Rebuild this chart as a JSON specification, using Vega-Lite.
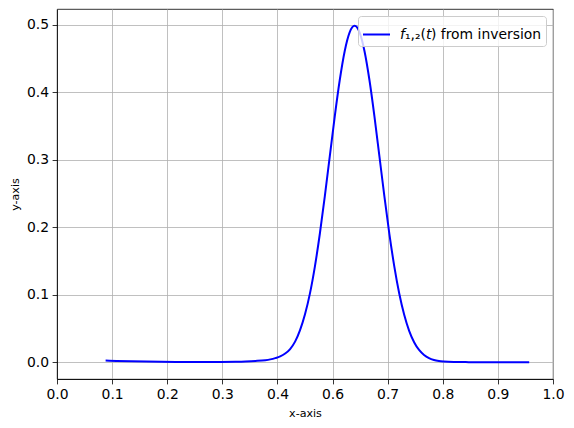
{
  "$schema": "https://vega.github.io/schema/vega-lite/v6.json",
  "width": 496,
  "height": 370,
  "autosize": {"type": "none"},
  "padding": {"left": 57, "top": 9, "right": 21, "bottom": 49},
  "background": "white",
  "config": {
    "view": {"stroke": "black", "strokeWidth": 0.8},
    "font": "DejaVu Sans",
    "axis": {
      "grid": true,
      "gridColor": "#b0b0b0",
      "gridWidth": 0.8,
      "domainColor": "black",
      "domainWidth": 0.8,
      "tickColor": "black",
      "tickWidth": 0.8,
      "tickSize": 4.9,
      "labelPadding": 3.5,
      "labelFont": "DejaVu Sans",
      "labelFontSize": 13.9,
      "labelColor": "black",
      "labelFlush": false,
      "labelOverlap": false,
      "titleFont": "DejaVu Sans",
      "titleFontSize": 11.1,
      "titleFontWeight": "normal",
      "titleColor": "black"
    }
  },
  "data": {
    "values": [
      {"x": 0.098, "y": 0.0025},
      {"x": 0.12, "y": 0.0019},
      {"x": 0.15, "y": 0.0013},
      {"x": 0.18, "y": 0.0009},
      {"x": 0.21, "y": 0.0006},
      {"x": 0.24, "y": 0.0004},
      {"x": 0.27, "y": 0.0003},
      {"x": 0.30, "y": 0.0003},
      {"x": 0.33, "y": 0.0004},
      {"x": 0.36, "y": 0.0007},
      {"x": 0.38, "y": 0.0011},
      {"x": 0.40, "y": 0.0018},
      {"x": 0.42, "y": 0.0030},
      {"x": 0.43, "y": 0.0042},
      {"x": 0.44, "y": 0.0060},
      {"x": 0.45, "y": 0.0085},
      {"x": 0.46, "y": 0.0128},
      {"x": 0.47, "y": 0.0195},
      {"x": 0.48, "y": 0.0305},
      {"x": 0.49, "y": 0.0475},
      {"x": 0.50, "y": 0.0710},
      {"x": 0.51, "y": 0.1020},
      {"x": 0.52, "y": 0.1421},
      {"x": 0.53, "y": 0.1907},
      {"x": 0.54, "y": 0.2461},
      {"x": 0.55, "y": 0.3053},
      {"x": 0.56, "y": 0.3643},
      {"x": 0.57, "y": 0.4178},
      {"x": 0.58, "y": 0.4609},
      {"x": 0.59, "y": 0.4888},
      {"x": 0.60, "y": 0.4985},
      {"x": 0.61, "y": 0.4888},
      {"x": 0.62, "y": 0.4609},
      {"x": 0.63, "y": 0.4178},
      {"x": 0.64, "y": 0.3643},
      {"x": 0.65, "y": 0.3053},
      {"x": 0.66, "y": 0.2461},
      {"x": 0.67, "y": 0.1907},
      {"x": 0.68, "y": 0.1421},
      {"x": 0.69, "y": 0.1018},
      {"x": 0.70, "y": 0.0702},
      {"x": 0.71, "y": 0.0465},
      {"x": 0.72, "y": 0.0296},
      {"x": 0.73, "y": 0.0181},
      {"x": 0.74, "y": 0.0107},
      {"x": 0.75, "y": 0.0060},
      {"x": 0.76, "y": 0.0033},
      {"x": 0.77, "y": 0.0018},
      {"x": 0.78, "y": 0.0010},
      {"x": 0.80, "y": 0.0003},
      {"x": 0.83, "y": 0.0001},
      {"x": 0.87, "y": 0.0},
      {"x": 0.91, "y": 0.0},
      {"x": 0.952, "y": 0.0}
    ]
  },
  "mark": {"type": "line", "strokeWidth": 2, "interpolate": "monotone"},
  "encoding": {
    "x": {
      "field": "x",
      "type": "quantitative",
      "scale": {"domain": [0, 1], "nice": false, "zero": false},
      "axis": {
        "title": "x-axis",
        "titlePadding": 6,
        "format": ".1f",
        "values": [0, 0.11111111, 0.22222222, 0.33333333, 0.44444444, 0.55555556, 0.66666667, 0.77777778, 0.88888889, 1]
      }
    },
    "y": {
      "field": "y",
      "type": "quantitative",
      "scale": {"domain": [-0.0249, 0.5234], "nice": false, "zero": false},
      "axis": {
        "title": "y-axis",
        "titlePadding": 6,
        "format": ".1f",
        "values": [0, 0.1, 0.2, 0.3, 0.4, 0.5]
      }
    },
    "color": {
      "datum": "𝘧₁,₂(𝘵) from inversion",
      "type": "nominal",
      "scale": {"range": ["#0000ff"]},
      "legend": {
        "title": null,
        "orient": "top-right",
        "offset": 7,
        "symbolType": "stroke",
        "symbolStrokeWidth": 2,
        "symbolSize": 729,
        "labelFont": "DejaVu Sans",
        "labelFontSize": 13.9,
        "labelColor": "black",
        "labelOffset": 9,
        "labelLimit": 300,
        "padding": 4,
        "strokeColor": "#cccccc",
        "fillColor": "rgba(255,255,255,0.8)",
        "cornerRadius": 3
      }
    }
  }
}
